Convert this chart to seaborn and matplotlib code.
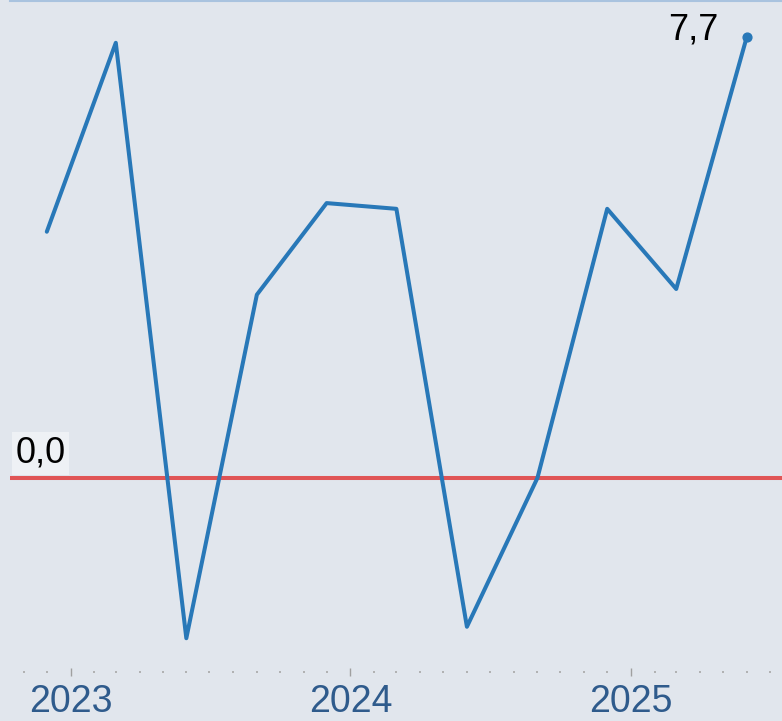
import matplotlib
matplotlib.use("Agg")
import matplotlib.pyplot as plt
import matplotlib.dates as mdates
import seaborn as sns
import pandas as pd

# quarterly values
dates = ["2022-12-01", "2023-03-01", "2023-06-01", "2023-09-01", "2023-12-01",
         "2024-03-01", "2024-06-01", "2024-09-01", "2024-12-01", "2025-03-01",
         "2025-06-01"]
values = [4.3, 7.6, -2.8, 3.2, 4.8, 4.7, -2.6, 0.0, 4.7, 3.3, 7.7]
zero_label = "0,0"
last_label = "7,7"

BG = "#e1e6ed"
BLUE = "#2878b8"
RED = "#e05556"
TICK_COL = "#2f5b8c"

df = pd.DataFrame({"date": pd.to_datetime(dates), "value": values})

sns.set_style("white")
plt.rcParams["font.family"] = ["Liberation Sans", "DejaVu Sans"]

fig = plt.figure(figsize=(7.82, 7.21), dpi=100, facecolor=BG)
ax = fig.add_axes([10 / 782, 49 / 721, 772 / 782, 671 / 721])
ax.set_facecolor(BG)

ax.axhline(0, color=RED, lw=2.9, zorder=1)
sns.lineplot(data=df, x="date", y="value", color=BLUE, lw=2.9, ax=ax, zorder=2)
ax.scatter(df["date"].iloc[-1], df["value"].iloc[-1], s=40, color=BLUE, zorder=3)

ax.annotate(last_label, (df["date"].iloc[-1], df["value"].iloc[-1]),
            xytext=(-20, 5), textcoords="offset points",
            ha="right", va="center", fontsize=26, color="black")
ax.annotate(zero_label, (0, 0), xycoords=("axes fraction", "data"),
            xytext=(4, 5), textcoords="offset points",
            ha="left", va="bottom", fontsize=26, color="black",
            bbox=dict(boxstyle="square,pad=0.1", fc="#eef1f5", ec="none"))

ax.set_xlim(pd.Timestamp("2022-10-14"), pd.Timestamp("2025-07-17"))
ax.set_ylim(-3.39, 8.33)

ax.xaxis.set_major_locator(mdates.YearLocator())
ax.xaxis.set_major_formatter(mdates.DateFormatter("%Y"))
ax.xaxis.set_minor_locator(mdates.MonthLocator())
ax.tick_params(axis="x", which="both", bottom=True)
ax.tick_params(axis="x", which="major", length=6, width=1.0, color="#a0a0a0",
               labelsize=27, labelcolor=TICK_COL, pad=6, direction="inout")
ax.tick_params(axis="x", which="minor", length=1.5, width=1.2, color="#a8a8a8",
               direction="inout")
ax.set_yticks([])
ax.set_xlabel("")
ax.set_ylabel("")

for side in ["left", "right", "bottom"]:
    ax.spines[side].set_visible(False)
ax.spines["top"].set_color("#a9c3df")
ax.spines["top"].set_linewidth(1.5)

fig.savefig("out.png", dpi=100, facecolor=BG)
